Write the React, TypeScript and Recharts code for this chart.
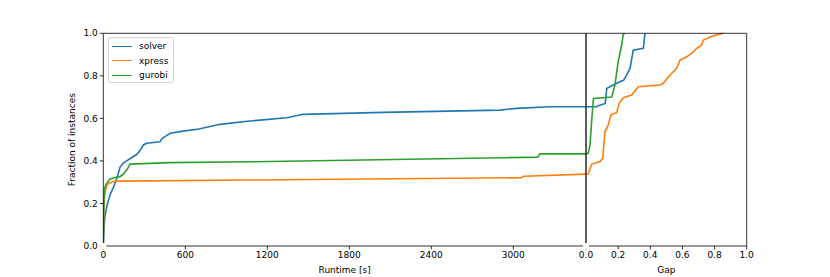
import React from 'react';
import { LineChart, Line, XAxis, YAxis, Legend, Label } from 'recharts';

// ---- Left panel: runtime (s) vs fraction of instances solved ----
const solverTime = [0, 5, 12, 25, 49, 70, 86, 105, 122, 146, 170, 195, 244, 270, 293, 317, 415, 430, 451, 489, 585, 700, 854, 1037, 1146, 1342, 1463, 2048, 2902, 3024, 3268, 3532];
const solverTimeFrac = [0, 0.08, 0.14, 0.185, 0.24, 0.27, 0.295, 0.33, 0.37, 0.39, 0.4, 0.41, 0.43, 0.45, 0.475, 0.483, 0.49, 0.505, 0.514, 0.53, 0.54, 0.55, 0.572, 0.585, 0.592, 0.603, 0.619, 0.628, 0.639, 0.647, 0.655, 0.655];

const xpressTime = [0, 3, 8, 15, 25, 40, 60, 90, 1073, 3060, 3075, 3532];
const xpressTimeFrac = [0, 0.16, 0.22, 0.26, 0.285, 0.295, 0.3, 0.305, 0.31, 0.321, 0.328, 0.338];

const gurobiTime = [0, 4, 8, 20, 49, 86, 122, 150, 171, 185, 195, 488, 1073, 2926, 3180, 3195, 3532];
const gurobiTimeFrac = [0, 0.2, 0.27, 0.29, 0.315, 0.322, 0.326, 0.34, 0.357, 0.372, 0.385, 0.392, 0.396, 0.415, 0.418, 0.433, 0.433];

// ---- Right panel: gap vs fraction of instances ----
const solverGap = [0, 0.066, 0.078, 0.12, 0.129, 0.149, 0.191, 0.235, 0.253, 0.274, 0.294, 0.357, 0.367];
const solverGapFrac = [0.655, 0.655, 0.66, 0.67, 0.741, 0.749, 0.765, 0.78, 0.804, 0.835, 0.921, 0.929, 1.0];

const xpressGap = [0, 0.014, 0.035, 0.087, 0.104, 0.118, 0.139, 0.154, 0.191, 0.207, 0.232, 0.284, 0.326, 0.46, 0.481, 0.523, 0.564, 0.585, 0.627, 0.658, 0.689, 0.72, 0.73, 0.792, 0.854];
const xpressGapFrac = [0.338, 0.34, 0.384, 0.397, 0.412, 0.537, 0.569, 0.616, 0.628, 0.671, 0.697, 0.71, 0.749, 0.757, 0.765, 0.804, 0.835, 0.874, 0.89, 0.906, 0.929, 0.945, 0.968, 0.988, 1.0];

const gurobiGap = [0, 0.014, 0.025, 0.035, 0.046, 0.16, 0.18, 0.2, 0.222, 0.232, 0.24];
const gurobiGapFrac = [0.431, 0.436, 0.475, 0.585, 0.694, 0.7, 0.757, 0.866, 0.945, 0.995, 1.0];

const runtimeTicks = [0, 600, 1200, 1800, 2400, 3000];
const gapTicks = [0, 0.2, 0.4, 0.6, 0.8, 1.0];
const fracTicks = [0, 0.2, 0.4, 0.6, 0.8, 1.0];

const seriesNames = ['solver', 'xpress', 'gurobi'];
const seriesColors = ['#1f77b4', '#ff7f0e', '#2ca02c'];

const zip = (xs: number[], ys: number[]) => xs.map((x, i) => ({ x, y: ys[i] }));

const runtimeSeries = [zip(solverTime, solverTimeFrac), zip(xpressTime, xpressTimeFrac), zip(gurobiTime, gurobiTimeFrac)];
const gapSeries = [zip(solverGap, solverGapFrac), zip(xpressGap, xpressGapFrac), zip(gurobiGap, gurobiGapFrac)];

const FONT = '"DejaVu Sans", sans-serif';
const tickStyle = { fontSize: 9, fill: '#000', fontFamily: FONT };
const axisLine = { stroke: '#000', strokeWidth: 0.8 };
const tickLine = { stroke: '#000', strokeWidth: 0.8 };
const LW = 1.6;

const LegendBox = () => (
  <div
    style={{
      width: 66,
      height: 46,
      boxSizing: 'border-box',
      border: '1px solid #d3d3d3',
      borderRadius: 3,
      background: 'rgba(255,255,255,0.85)',
      fontFamily: FONT,
      fontSize: 9,
      color: '#000',
      paddingTop: 1,
      paddingLeft: 3,
    }}
  >
    {seriesNames.map((n, i) => (
      <div key={n} style={{ display: 'flex', alignItems: 'center', height: 14.5 }}>
        <span style={{ display: 'inline-block', width: 20, height: 0, borderTop: `1.5px solid ${seriesColors[i]}`, marginRight: 7 }} />
        <span style={{ lineHeight: '14.5px' }}>{n}</span>
      </div>
    ))}
  </div>
);

const W = 830;
const H = 277;
const PLOT_TOP = 33.3;
const PLOT_BOTTOM = 246;
const LEFT_X0 = 103.3;
const DIVIDER = 586;
const RIGHT_X1 = 746.7;

export default function App() {
  return (
    <div style={{ position: 'absolute', left: 0, top: 0, width: W, height: H, background: '#fff' }}>
      <div style={{ position: 'absolute', left: 0, top: 0 }}>
        <LineChart width={W} height={H} margin={{ top: PLOT_TOP - 1, right: W - DIVIDER - 1, bottom: H - PLOT_BOTTOM - 30, left: LEFT_X0 - 45 }}>
          <XAxis xAxisId="b" dataKey="x" type="number" domain={[0, 3532]} ticks={runtimeTicks} allowDataOverflow
            height={30} tickSize={3.5} tickMargin={2} tick={tickStyle} axisLine={axisLine} tickLine={tickLine} interval={0}>
            <Label value="Runtime [s]" position="insideBottom" offset={3} style={{ fontSize: 9, fill: '#000', fontFamily: FONT }} />
          </XAxis>
          <XAxis xAxisId="t" orientation="top" dataKey="x" type="number" domain={[0, 3532]} ticks={runtimeTicks} height={1} tick={false} tickLine={false} axisLine={axisLine} />
          <YAxis yAxisId="l" type="number" domain={[0, 1]} ticks={fracTicks} width={45} tickSize={3.5} tickMargin={2}
            tick={tickStyle} axisLine={axisLine} tickLine={tickLine} tickFormatter={(v: number) => v.toFixed(1)} interval={0}>
            <Label value="Fraction of instances" angle={-90} position="insideLeft" offset={13.5}
              style={{ fontSize: 9, fill: '#000', fontFamily: FONT, textAnchor: 'middle' }} />
          </YAxis>
          <YAxis yAxisId="r" orientation="right" type="number" domain={[0, 1]} ticks={fracTicks} width={1} tick={false} tickLine={false} axisLine={axisLine} />
          <Legend layout="vertical" align="center" verticalAlign="middle" content={() => <LegendBox />}
            wrapperStyle={{ left: 108, top: 37, width: 66, height: 46 }} />
          {runtimeSeries.map((d, i) => (
            <Line key={seriesNames[i]} xAxisId="b" yAxisId="l" data={d} dataKey="y" name={seriesNames[i]} type="linear"
              stroke={seriesColors[i]} strokeWidth={LW} dot={false} isAnimationActive={false} />
          ))}
          <Line key="anchor" xAxisId="t" yAxisId="r" data={[{ x: 0, y: 0 }]} dataKey="y" stroke="none" dot={false} legendType="none" isAnimationActive={false} />
        </LineChart>
      </div>
      <div style={{ position: 'absolute', left: 0, top: 0 }}>
        <LineChart width={W} height={H} margin={{ top: PLOT_TOP - 1, right: W - RIGHT_X1 - 1, bottom: H - PLOT_BOTTOM - 30, left: DIVIDER - 5 }}>
          <XAxis xAxisId="b" dataKey="x" type="number" domain={[0, 1]} ticks={gapTicks} allowDataOverflow
            height={30} tickSize={3.5} tickMargin={2} tick={tickStyle} axisLine={axisLine} tickLine={tickLine} interval={0}
            tickFormatter={(v: number) => v.toFixed(1)}>
            <Label value="Gap" position="insideBottom" offset={3} style={{ fontSize: 9, fill: '#000', fontFamily: FONT }} />
          </XAxis>
          <XAxis xAxisId="t" orientation="top" dataKey="x" type="number" domain={[0, 1]} ticks={gapTicks} height={1} tick={false} tickLine={false} axisLine={axisLine} />
          <YAxis yAxisId="l" type="number" domain={[0, 1]} ticks={fracTicks} width={5} tickSize={3.5} tick={false}
            axisLine={axisLine} tickLine={tickLine} interval={0} />
          <YAxis yAxisId="r" orientation="right" type="number" domain={[0, 1]} ticks={fracTicks} width={1} tick={false} tickLine={false} axisLine={axisLine} />
          {gapSeries.map((d, i) => (
            <Line key={seriesNames[i]} xAxisId="b" yAxisId="l" data={d} dataKey="y" name={seriesNames[i]} type="linear"
              stroke={seriesColors[i]} strokeWidth={LW} dot={false} isAnimationActive={false} />
          ))}
          <Line key="anchor" xAxisId="t" yAxisId="r" data={[{ x: 0, y: 0 }]} dataKey="y" stroke="none" dot={false} legendType="none" isAnimationActive={false} />
        </LineChart>
      </div>
    </div>
  );
}
